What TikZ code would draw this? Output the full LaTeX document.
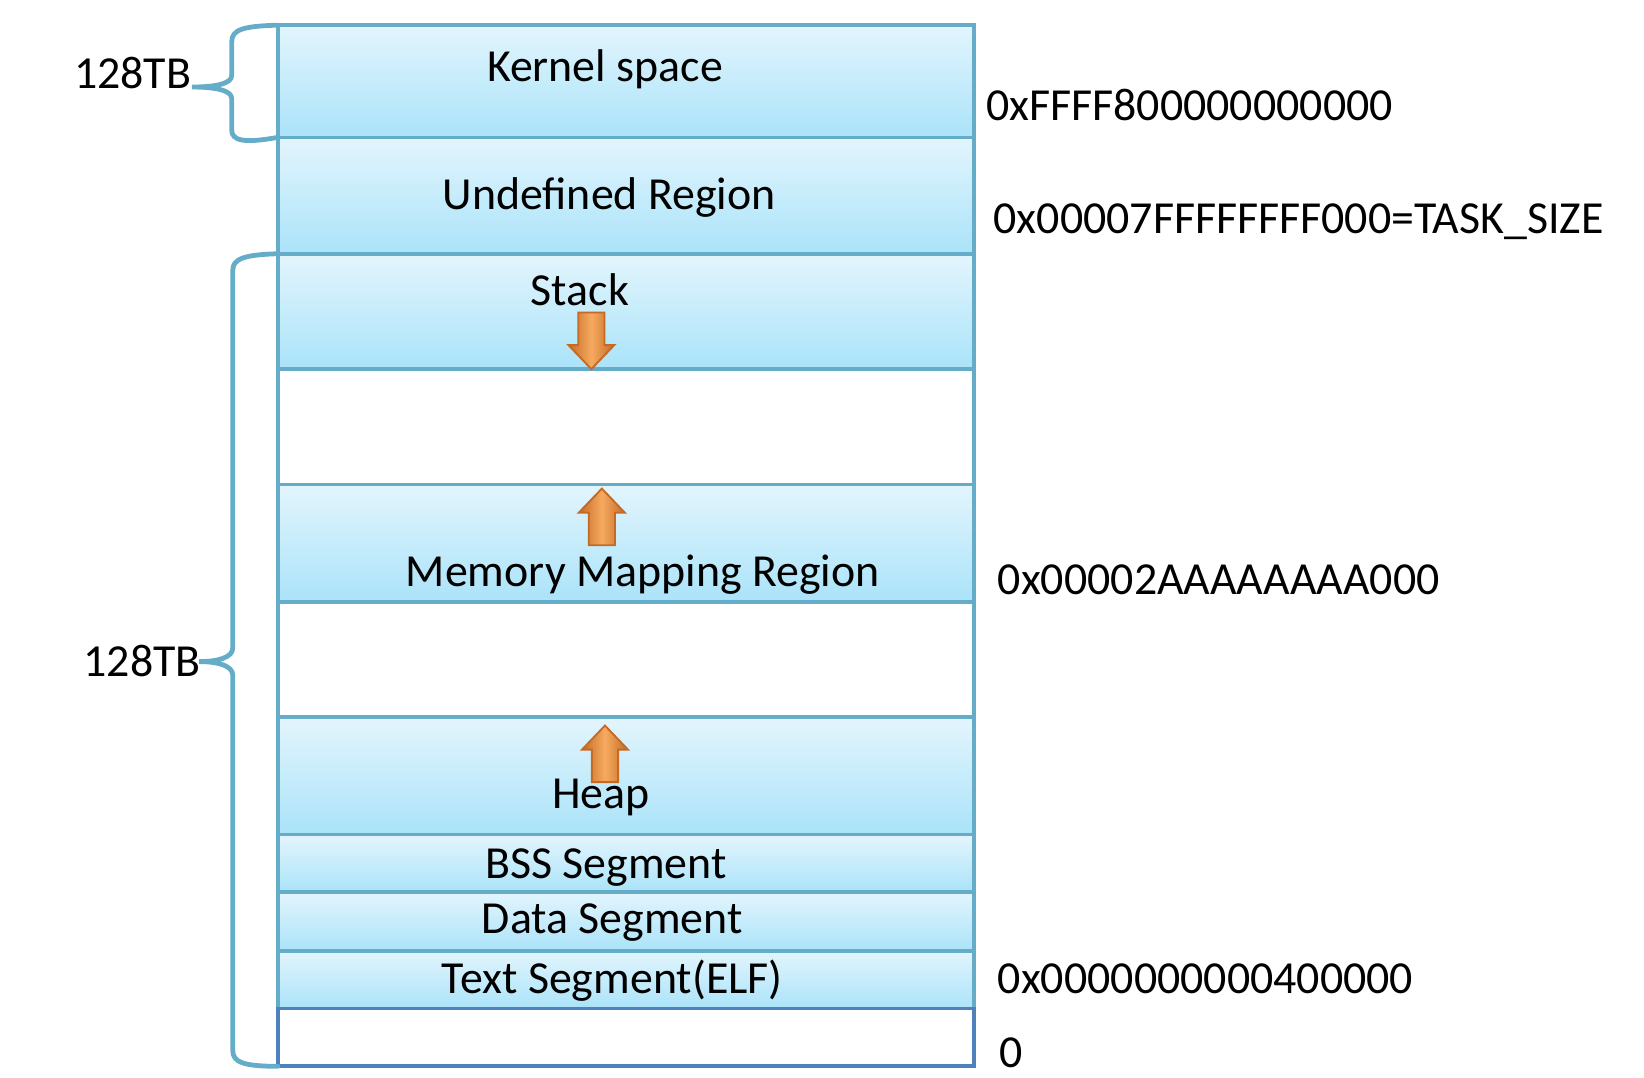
\documentclass[tikz,border=0pt]{standalone}
\usepackage{fontspec}
\setmainfont{Carlito}
\usepackage{tikz}
\usetikzlibrary{positioning}
\newcommand{\memfont}{\fontsize{12.45}{14}\selectfont}
\definecolor{memtop}{RGB}{227,245,253}
\definecolor{membot}{RGB}{170,227,249}
\definecolor{memedge}{RGB}{100,172,200}
\definecolor{memblue}{RGB}{79,129,189}
\definecolor{memorange}{RGB}{232,132,52}
\definecolor{memorangelt}{RGB}{246,170,96}
\definecolor{memorangedk}{RGB}{196,106,36}

\tikzset{
  growarrow/.pic={
    \path[draw=memorangedk, line width=0.5pt, left color=memorangedk,
      right color=memorangedk, middle color=memorangelt]
      (-0.125,0) -- (-0.125,0.31) -- (-0.22,0.31) -- (0,0.54)
      -- (0.22,0.31) -- (0.125,0.31) -- (0.125,0) -- cycle;
  }
}

\begin{document}
\begin{tikzpicture}[
  memcell/.style={draw=memedge, line width=1pt, minimum width=6.64cm,
    inner sep=0pt, outer sep=0pt},
  region/.style={memcell, top color=memtop, bottom color=membot},
  freegap/.style={memcell, fill=white},
  regtext/.style={font=\memfont, anchor=base, inner sep=0pt},
  addr/.style={font=\memfont, anchor=base west, inner sep=0pt},
  sizetext/.style={font=\memfont, anchor=base east, inner sep=0pt},
  brace/.style={draw=memedge, line width=1.3pt, line cap=round}
]
  \useasboundingbox (0,0) rectangle (15.68,-10.28);

  % --- Address space, top to bottom ---
  \node[region, anchor=north, minimum height=1.07cm] (kernel) at (5.97,-0.24) {};
  \node[region,  minimum height=1.11cm, below=0pt of kernel] (undef) {};
  \node[region,  minimum height=1.10cm, below=0pt of undef]  (stack) {};
  \node[freegap, minimum height=1.10cm, below=0pt of stack]  (gapone) {};
  \node[region,  minimum height=1.12cm, below=0pt of gapone] (mmap) {};
  \node[freegap, minimum height=1.10cm, below=0pt of mmap]   (gaptwo) {};
  \node[region,  minimum height=1.12cm, below=0pt of gaptwo] (heap) {};
  \node[region,  minimum height=0.55cm, below=0pt of heap]   (bss) {};
  \node[region,  minimum height=0.56cm, below=0pt of bss]    (data) {};
  \node[region,  minimum height=0.55cm, below=0pt of data]   (text) {};
  \node[freegap, draw=memblue, minimum height=0.55cm, below=0pt of text] (zero) {};

  % --- Growth arrows ---
  \pic[rotate=180] (stackgrow) at (5.64,-2.98) {growarrow};
  \pic (mmapgrow) at (5.74,-5.20) {growarrow};
  \pic (heapgrow) at (5.77,-7.46) {growarrow};

  % --- Region names ---
  \node[regtext] (kerneltxt) at (5.77,-0.78) {Kernel space};
  \node[regtext] (undeftxt)  at (5.81,-2.00) {Undefined Region};
  \node[regtext] (stacktxt)  at (5.53,-2.91) {Stack};
  \node[regtext] (mmaptxt)   at (6.13,-5.59) {Memory Mapping Region};
  \node[regtext] (heaptxt)   at (5.73,-7.71) {Heap};
  \node[regtext] (bsstxt)    at (5.78,-8.38) {BSS Segment};
  \node[regtext] (datatxt)   at (5.84,-8.90) {Data Segment};
  \node[regtext] (texttxt)   at (5.84,-9.48) {Text Segment(ELF)};

  % --- Addresses ---
  \node[addr] (akernel) at (9.40,-1.145) {0xFFFF800000000000};
  \node[addr] (atask)   at (9.47,-2.225) {0x00007FFFFFFFF000=TASK\_SIZE};
  \node[addr] (ammap)   at (9.51,-5.67)  {0x00002AAAAAAAA000};
  \node[addr] (atext)   at (9.51,-9.48)  {0x0000000000400000};
  \node[addr] (azero)   at (9.53,-10.18) {0};

  % --- Sizes ---
  \node[sizetext] (ksize) at (1.83,-0.84) {128TB};
  \node[sizetext] (usize) at (1.92,-6.45) {128TB};

  \draw[brace] (kernel.north west) .. controls (2.32,-0.25) and (2.21,-0.28) .. (2.21,-0.40)
    -- (2.21,-0.72) .. controls (2.21,-0.80) and (2.05,-0.83) .. (1.83,-0.83)
    .. controls (2.05,-0.83) and (2.21,-0.86) .. (2.21,-0.94)
    -- (2.21,-1.24) .. controls (2.21,-1.34) and (2.32,-1.37) .. (kernel.south west);
  \draw[brace] (stack.north west) .. controls (2.32,-2.43) and (2.22,-2.47) .. (2.22,-2.58)
    -- (2.22,-6.18) .. controls (2.22,-6.27) and (2.08,-6.31) .. (1.90,-6.31)
    .. controls (2.08,-6.31) and (2.22,-6.35) .. (2.22,-6.44)
    -- (2.22,-10.02) .. controls (2.22,-10.13) and (2.32,-10.17) .. (zero.south west);
\end{tikzpicture}
\end{document}
